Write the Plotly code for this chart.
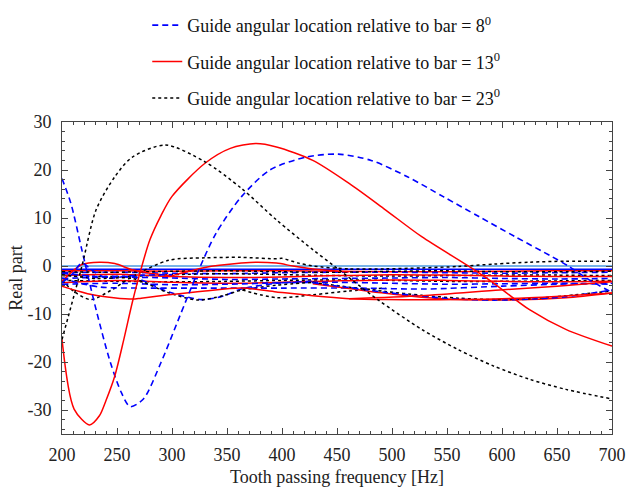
import plotly.graph_objects as go

# ---------------- data ----------------
legend_names = [
    "Guide angular location relative to bar = 8<sup>0</sup>",
    "Guide angular location relative to bar = 13<sup>0</sup>",
    "Guide angular location relative to bar = 23<sup>0</sup>",
]
x_ticks = [200, 250, 300, 350, 400, 450, 500, 550, 600, 650, 700]
y_ticks = [-30, -20, -10, 0, 10, 20, 30]
y_tick_labels = ["-30", "-20", "-10", "0", "10", "20", "30"]

# dominant curves
blue_main_x = [200, 208, 218, 231, 244, 254, 262, 274, 290, 307, 323, 340, 363, 389, 422, 451, 481, 514, 547, 579, 612, 645, 661, 680, 700]
blue_main_y = [18.2, 13.1, 3.4, -9.1, -20.1, -26.4, -29.3, -27.7, -20.1, -10.5, -1.5, 6.8, 14.4, 20.0, 22.7, 23.3, 22.0, 18.6, 14.4, 10.3, 6.1, 2.0, -0.1, -3.0, -5.5]

red_main_x = [200, 211, 225, 234, 240, 248, 256, 264, 272, 280, 290, 300, 330, 353, 376, 395, 428, 461, 494, 527, 570, 592, 625, 658, 700]
red_main_y = [-15.3, -29.8, -33.1, -31.2, -28.0, -22.9, -15.5, -7.5, -0.5, 5.5, 10.5, 14.5, 21.4, 24.5, 25.5, 24.8, 22.0, 17.2, 11.7, 6.1, -0.1, -3.5, -9.1, -13.2, -16.7]

black_main_x = [200, 218, 231, 248, 264, 294, 330, 363, 395, 428, 448, 487, 527, 560, 592, 625, 658, 700]
black_main_y = [-15.3, -0.1, 11.7, 18.6, 22.7, 25.2, 21.7, 16.2, 9.6, 3.4, -0.1, -7.0, -13.2, -17.4, -20.8, -23.6, -25.7, -27.7]

# small modes clustered around zero
grid_x = [200, 250, 300, 350, 400, 450, 500, 550, 600, 650, 700]
lightblue_y = [0.0, 0.0, 0.0, 0.0, 0.0, 0.0, 0.0, 0.0, 0.0, 0.0, 0.0]
darkblue_y = [-0.7, -0.7, -0.7, -0.7, -0.7, -0.7, -0.7, -0.7, -0.7, -0.7, -0.7]
h_red1_y = [-1.0, -1.0, -1.1, -1.0, -1.0, -1.1, -1.2, -1.2, -1.1, -1.0, -1.0]
h_blue1_y = [-1.4, -1.3, -1.5, -1.6, -1.4, -1.3, -1.3, -1.4, -1.5, -1.4, -1.3]
h_black1_y = [-1.2, -1.3, -1.1, -1.0, -1.2, -1.3, -1.1, -1.0, -1.2, -1.2, -1.1]
h_black2_y = [-2.0, -2.2, -1.8, -1.6, -1.8, -2.0, -2.1, -2.0, -1.9, -1.9, -2.0]
h_red2_y = [-2.0, -1.7, -2.2, -2.4, -2.3, -2.0, -1.8, -1.9, -2.1, -2.2, -2.2]
h_blue2_y = [-2.6, -2.3, -2.5, -2.8, -2.7, -2.6, -2.5, -2.4, -2.6, -2.7, -2.6]
h_black3_y = [-3.0, -3.2, -3.3, -3.2, -3.0, -2.9, -3.0, -3.2, -3.2, -3.1, -3.0]
h_red3_y = [-3.5, -3.0, -3.4, -3.6, -3.4, -3.1, -2.9, -3.0, -3.2, -3.3, -3.2]
h_blue3_y = [-3.8, -3.6, -3.9, -3.8, -3.5, -3.4, -3.6, -3.8, -3.7, -3.6, -3.8]

k_wave_x = [200, 212, 226, 245, 264, 297, 330, 363, 395, 400, 415, 428, 461, 494, 527, 560, 593, 625, 658, 700]
k_wave_y = [-3.0, -5.5, -7.0, -5.0, -2.2, 1.2, 1.7, 1.8, 1.5, 1.6, 0.6, 0.0, -0.6, -0.6, -0.4, -0.1, 0.4, 0.8, 1.0, 1.0]

r_wave1_x = [200, 218, 234, 248, 264, 280, 300]
r_wave1_y = [-3.2, 0.3, 0.8, 0.5, -0.8, -1.5, -2.0]

r_wave2_x = [297, 330, 363, 376, 395, 410, 428, 461]
r_wave2_y = [-2.2, -0.3, 0.6, 0.8, 0.6, 0.0, -0.6, -1.2]

b_peak_x = [200, 210, 218, 228, 240, 264, 300]
b_peak_y = [-3.5, -1.5, 0.6, -1.0, -2.5, -2.0, -1.8]

b_dip_x = [200, 231, 264, 297, 327, 346, 363, 395, 428]
b_dip_y = [-1.5, -2.2, -2.3, -5.4, -7.0, -6.3, -4.8, -3.6, -3.2]
k_dip_x = [200, 231, 264, 297, 324, 346, 364, 395, 428]
k_dip_y = [-1.8, -2.6, -2.6, -5.6, -7.1, -6.2, -5.0, -4.0, -3.4]

k_low_x = [364, 395, 428, 461, 494]
k_low_y = [-5.0, -6.6, -6.0, -5.2, -4.6]

b_long_x = [200, 215, 235, 270, 330, 400, 470, 530, 600, 650, 700]
b_long_y = [-2.5, -3.5, -4.4, -4.6, -4.6, -4.6, -4.6, -4.8, -4.2, -3.8, -3.6]

band_x = [428, 461, 494, 527, 560, 593, 625, 658, 700]
band_blue_y = [-3.5, -4.5, -5.5, -6.3, -6.9, -7.1, -6.9, -6.4, -5.0]
band_red_y = [-3.7, -4.7, -5.7, -6.5, -7.0, -7.1, -7.0, -6.6, -5.6]
band_black_y = [-3.4, -4.4, -5.3, -6.1, -6.7, -7.0, -6.8, -6.2, -5.2]

r_low_x = [200, 228, 264, 272, 297, 330, 363, 395, 428, 461, 494, 560, 625, 700]
r_low_y = [-4.2, -6.0, -6.9, -6.7, -6.0, -5.2, -4.6, -5.4, -6.2, -6.8, -7.0, -7.0, -6.6, -5.6]

r_rise_x = [461, 527, 598, 650, 700]
r_rise_y = [-6.8, -6.2, -5.0, -4.2, -3.3]

# ---------------- styles ----------------
BLUE = "#0000FF"
RED = "#FF0000"
BLACK = "#000000"
LIGHTBLUE = "#4A9AE0"
FONT = "Times New Roman, Liberation Serif, serif"

styles = {
    "blue": dict(color=BLUE, width=1.6, dash="6px,4px"),
    "red": dict(color=RED, width=1.5, dash="solid"),
    "black": dict(color=BLACK, width=1.5, dash="dot"),
}

fig = go.Figure()

def add(x, y, kind, name=None, show=False, group=None):
    fig.add_trace(go.Scatter(
        x=x, y=y, mode="lines", name=name, showlegend=show,
        legendgroup=group, line=dict(shape="spline", smoothing=0.8, **styles[kind]),
        hoverinfo="skip",
    ))

# background cluster
fig.add_trace(go.Scatter(x=grid_x, y=lightblue_y, mode="lines", showlegend=False,
                         line=dict(color=LIGHTBLUE, width=1.5)))
fig.add_trace(go.Scatter(x=grid_x, y=darkblue_y, mode="lines", showlegend=False,
                         line=dict(color=BLUE, width=1.5)))
add(grid_x, h_red1_y, "red")
add(grid_x, h_blue1_y, "blue")
add(grid_x, h_black1_y, "black")
add(grid_x, h_black2_y, "black")
add(grid_x, h_red2_y, "red")
add(grid_x, h_blue2_y, "blue")
add(grid_x, h_black3_y, "black")
add(grid_x, h_red3_y, "red")
add(grid_x, h_blue3_y, "blue")
add(k_wave_x, k_wave_y, "black")
add(r_wave1_x, r_wave1_y, "red")
add(r_wave2_x, r_wave2_y, "red")
add(b_peak_x, b_peak_y, "blue")
add(b_dip_x, b_dip_y, "blue")
add(k_dip_x, k_dip_y, "black")
add(k_low_x, k_low_y, "black")
add(b_long_x, b_long_y, "blue")
add(band_x, band_red_y, "red")
add(band_x, band_black_y, "black")
add(band_x, band_blue_y, "blue")
add(r_low_x, r_low_y, "red")
add(r_rise_x, r_rise_y, "red")

# dominant curves (with legend)
add(blue_main_x, blue_main_y, "blue", legend_names[0], True, "g1")
add(red_main_x, red_main_y, "red", legend_names[1], True, "g2")
add(black_main_x, black_main_y, "black", legend_names[2], True, "g3")

axis_common = dict(
    showline=True, linecolor="#444", linewidth=1, mirror="allticks",
    ticks="inside", ticklen=6, tickcolor="#444", showgrid=False, zeroline=False,
    tickfont=dict(family=FONT, size=18, color="#222"), automargin=False,
)

fig.update_xaxes(
    range=[200, 700], tickvals=x_ticks, ticklabelstandoff=4,
    minor=dict(ticks="inside", ticklen=3, dtick=10, tickcolor="#444", showgrid=False),
    title=dict(text="Tooth passing frequency [Hz]", font=dict(family=FONT, size=18, color="#222"), standoff=6),
    **axis_common,
)
fig.update_yaxes(
    range=[-35, 30], tickvals=y_ticks, ticktext=y_tick_labels, ticklabelstandoff=6,
    minor=dict(ticks="inside", ticklen=3, dtick=2, tickcolor="#444", showgrid=False),
    title=dict(text="Real part", font=dict(family=FONT, size=18, color="#222"), standoff=0),
    **axis_common,
)

fig.update_layout(
    width=629, height=494,
    margin=dict(l=62, r=17, t=122, b=60, autoexpand=False),
    paper_bgcolor="white", plot_bgcolor="white",
    legend=dict(
        x=0.155, y=0.986, xanchor="left", yanchor="top", yref="container",
        font=dict(family=FONT, size=18, color="#111"),
        bgcolor="rgba(0,0,0,0)", tracegroupgap=10, traceorder="grouped",
    ),
)

fig.write_html("out.html")
